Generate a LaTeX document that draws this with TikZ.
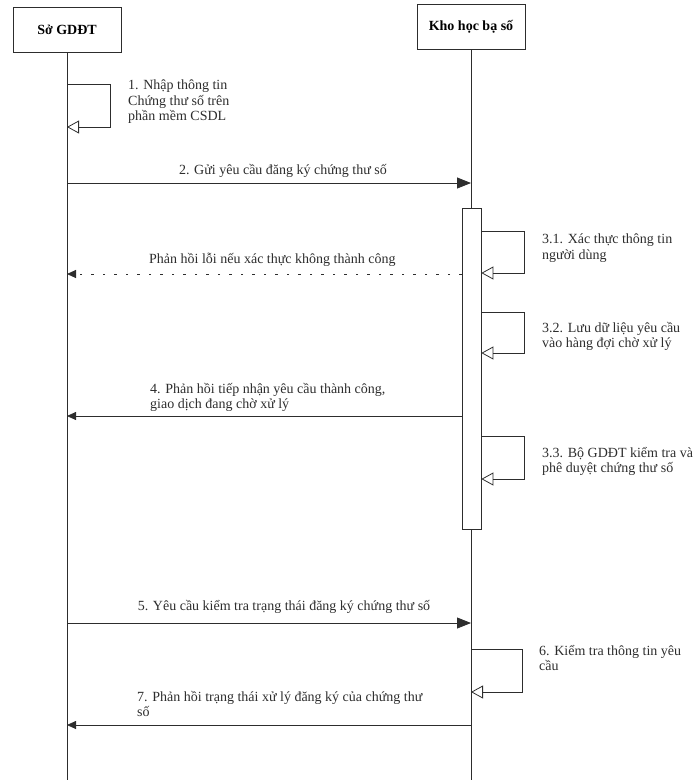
\documentclass[tikz,border=0pt]{standalone}
\usepackage{fontspec}
\setmainfont{Liberation Serif}
\usetikzlibrary{arrows.meta, positioning}
\definecolor{inkgray}{RGB}{45, 45, 45}

\begin{document}
\begin{tikzpicture}[x=1pt, y=1pt,
    head/.style={rectangle, draw=inkgray, minimum width=108pt, minimum height=45pt, font=\fontsize{14}{16}\selectfont\bfseries},
    life/.style={draw=inkgray, line width=0.7pt},
    actbar/.style={rectangle, draw=inkgray, fill=white, line width=0.7pt, minimum width=19pt, minimum height=321pt, inner sep=0pt},
    msg/.style={-{Triangle[length=14pt, width=11pt]}, draw=inkgray, line width=0.8pt},
    back/.style={-{Triangle[length=9pt, width=8pt]}, draw=inkgray, line width=0.8pt},
    reply/.style={back, line width=1pt, dash pattern=on 2.5pt off 9pt},
    selfcall/.style={-{Triangle[open, length=12pt, width=13pt]}, draw=inkgray, line width=0.8pt},
    lbl/.style={align=left, inner sep=0pt, font=\fontsize{14}{15.5}\selectfont, text=inkgray}
]
    \useasboundingbox (0,0) rectangle (697,-780);

    % Lifelines
    \node[head] (so) at (67,-29.5) {Sở GDĐT};
    \node[head] (kho) at (471,-27) {Kho học bạ số};
    \draw[life] (so.south) -- (so.south |- 0,-780);
    \draw[life] (kho.south) -- (kho.south |- 0,-780);
    \node[actbar] (bar) at (471.5,-368.5) {};

    % 1. self call on So GDDT
    \coordinate (s1a) at (so |- 0,-84);
    \coordinate (s1b) at (so |- 0,-127);
    \draw[selfcall] (s1a) -- ++(43,0) |- (s1b);
    \node[lbl, anchor=north west] (t1) at (128,-80) {1. Nhập thông tin\\Chứng thư số trên\\phần mềm CSDL};

    % 2. request
    \coordinate (m2a) at (so |- 0,-183);
    \coordinate (m2b) at (kho |- 0,-183);
    \draw[msg] (m2a) -- node[lbl, above=5pt, xshift=14pt] (t2) {2. Gửi yêu cầu đăng ký chứng thư số} (m2b);

    % 3.x checks on the activation bar
    \coordinate (s31a) at (bar.east |- 0,-231);
    \coordinate (s31b) at (bar.east |- 0,-273);
    \draw[selfcall] (s31a) -- ++(43,0) |- (s31b);
    \node[lbl, anchor=north west] (t31) at (542,-234) {3.1. Xác thực thông tin\\người dùng};

    \coordinate (r1a) at (bar.west |- 0,-274);
    \coordinate (r1b) at (so |- 0,-274);
    \draw[reply] (r1a) -- node[lbl, above=7pt, xshift=8pt] (tr) {Phản hồi lỗi nếu xác thực không thành công} (r1b);

    \coordinate (s32a) at (bar.east |- 0,-312);
    \coordinate (s32b) at (bar.east |- 0,-353);
    \draw[selfcall] (s32a) -- ++(43,0) |- (s32b);
    \node[lbl, anchor=north west] (t32) at (542,-322) {3.2. Lưu dữ liệu yêu cầu\\vào hàng đợi chờ xử lý};

    % 4. accepted
    \coordinate (m4a) at (bar.west |- 0,-416);
    \coordinate (m4b) at (so |- 0,-416);
    \draw[back] (m4a) -- (m4b);
    \node[lbl, anchor=south west] (t4) at (150,-412) {4. Phản hồi tiếp nhận yêu cầu thành công,\\giao dịch đang chờ xử lý};

    \coordinate (s33a) at (bar.east |- 0,-436);
    \coordinate (s33b) at (bar.east |- 0,-479);
    \draw[selfcall] (s33a) -- ++(43,0) |- (s33b);
    \node[lbl, anchor=north west] (t33) at (542,-447) {3.3. Bộ GDĐT kiểm tra và\\phê duyệt chứng thư số};

    % 5. status query
    \coordinate (m5a) at (so |- 0,-623);
    \coordinate (m5b) at (kho |- 0,-623);
    \draw[msg] (m5a) -- (m5b);
    \node[lbl] (t5) at (284,-607) {5. Yêu cầu kiểm tra trạng thái đăng ký chứng thư số};

    \coordinate (s6a) at (kho |- 0,-649);
    \coordinate (s6b) at (kho |- 0,-692);
    \draw[selfcall] (s6a) -- ++(51,0) |- (s6b);
    \node[lbl, anchor=north west] (t6) at (539,-645) {6. Kiểm tra thông tin yêu\\cầu};

    % 7. status reply
    \coordinate (m7a) at (kho |- 0,-725);
    \coordinate (m7b) at (so |- 0,-725);
    \draw[back] (m7a) -- (m7b);
    \node[lbl, anchor=north west] (t7) at (137,-691) {7. Phản hồi trạng thái xử lý đăng ký của chứng thư\\số};
\end{tikzpicture}
\end{document}
